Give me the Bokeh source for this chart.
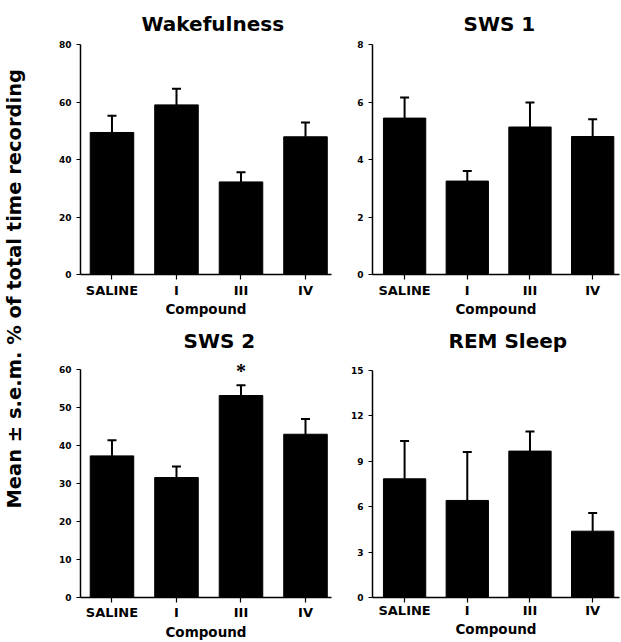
import numpy as np
from bokeh.plotting import figure
from bokeh.models import (ColumnDataSource, Whisker, TeeHead, FixedTicker,
                          Range1d, LabelSet)
from bokeh.layouts import row, column
from bokeh.embed import file_html
from bokeh.resources import INLINE
from bokeh.core.properties import value

# ---------------- data ----------------
compounds = ["SALINE", "I", "III", "IV"]

wake_mean = [49.4, 59.0, 32.2, 47.9]
wake_sem = [5.8, 5.6, 3.4, 5.0]

sws1_mean = [5.44, 3.25, 5.13, 4.80]
sws1_sem = [0.72, 0.35, 0.85, 0.60]

sws2_mean = [37.3, 31.6, 53.2, 43.0]
sws2_sem = [4.1, 2.9, 2.7, 4.0]
sws2_sig = ["", "", "*", ""]

rem_mean = [7.84, 6.41, 9.67, 4.38]
rem_sem = [2.5, 3.2, 1.3, 1.2]

wake_ticks = [0, 20, 40, 60, 80]
sws1_ticks = [0, 2, 4, 6, 8]
sws2_ticks = [0, 10, 20, 30, 40, 50, 60]
rem_ticks = [0, 3, 6, 9, 12, 15]

y_label = "Mean \u00b1 s.e.m. % of total time recording"
x_label = "Compound"

FONT = "DejaVu Sans"


def panel(title, means, sems, ticks, width, height, bl, br, bt, bb,
          xstart, xend, title_standoff, title_offset, sig=None,
          tick_standoff=3, label_standoff=0, ytop=None):
    xs = list(range(len(compounds)))
    src = ColumnDataSource(dict(
        x=xs, top=means, upper=[m + s for m, s in zip(means, sems)],
        sig=sig if sig is not None else [""] * len(xs)))
    p = figure(width=width, height=height, output_backend="svg",
               toolbar_location=None,
               x_range=Range1d(xstart, xend),
               y_range=Range1d(ticks[0], ytop if ytop else ticks[-1]),
               min_border_left=bl, min_border_right=br,
               min_border_top=bt, min_border_bottom=bb)
    p.title.text = title
    p.title.text_font = FONT
    p.title.text_font_size = "20px"
    p.title.text_font_style = "bold"
    p.title.text_color = "black"
    p.title.align = "left"
    p.title.vertical_align = "top"
    p.title.standoff = title_standoff
    p.title.offset = title_offset
    p.outline_line_color = None
    p.grid.visible = False
    p.background_fill_color = "white"
    p.border_fill_color = "white"

    p.vbar(x="x", top="top", bottom=0, width=0.675, source=src,
           fill_color="black", line_color="black")
    w = Whisker(base="x", lower="top", upper="upper", source=src,
                line_color="black", line_width=2,
                upper_head=TeeHead(size=9, line_color="black", line_width=2),
                lower_head=None)
    p.add_layout(w)
    if sig is not None:
        ls = LabelSet(x="x", y="upper", text="sig", source=src,
                      text_font=FONT, text_font_style="bold",
                      text_font_size="20px", text_align="center",
                      text_baseline="middle", y_offset=14,
                      text_color="black")
        p.add_layout(ls)

    # y axis
    ya = p.yaxis[0]
    ya.ticker = FixedTicker(ticks=ticks)
    ya.bounds = (ticks[0], ticks[-1])
    ya.minor_tick_line_color = None
    ya.major_tick_in = 0
    ya.major_tick_out = 4
    ya.axis_line_width = 1.5
    ya.axis_line_color = "black"
    ya.major_tick_line_color = "black"
    ya.major_tick_line_width = 1.2
    ya.major_label_text_font = FONT
    ya.major_label_text_font_style = "bold"
    ya.major_label_text_font_size = "9px"
    ya.major_label_text_color = "black"
    ya.major_label_standoff = 5

    # x axis
    xa = p.xaxis[0]
    xa.ticker = FixedTicker(ticks=xs)
    xa.major_label_overrides = {i: c for i, c in enumerate(compounds)}
    xa.minor_tick_line_color = None
    xa.major_tick_in = 0
    xa.major_tick_out = 5
    xa.axis_line_width = 1.5
    xa.axis_line_color = "black"
    xa.major_tick_line_color = "black"
    xa.major_tick_line_width = 1.2
    xa.major_label_text_font = FONT
    xa.major_label_text_font_style = "bold"
    xa.major_label_text_font_size = "13px"
    xa.major_label_text_color = "black"
    xa.major_label_standoff = tick_standoff
    xa.axis_label = x_label
    xa.axis_label_text_font = FONT
    xa.axis_label_text_font_style = "bold"
    xa.axis_label_text_font_size = "13.5px"
    xa.axis_label_text_color = "black"
    xa.axis_label_standoff = label_standoff
    return p


p1 = panel("Wakefulness", wake_mean, wake_sem, wake_ticks,
           313, 320, 48, 14, 44, 46,
           -0.488, 3.403, 14, 61, tick_standoff=3, label_standoff=0)
p2 = panel("SWS 1", sws1_mean, sws1_sem, sws1_ticks,
           276, 320, 27, 2, 44, 46,
           -0.512, 3.428, 13, 91, tick_standoff=3, label_standoff=0)
p3 = panel("SWS 2", sws2_mean, sws2_sem, sws2_ticks,
           313, 322, 48, 14, 34, 45,
           -0.488, 3.403, 0, 103, sig=sws2_sig,
           tick_standoff=2, label_standoff=1, ytop=64)
p4 = panel("REM Sleep", rem_mean, rem_sem, rem_ticks,
           276, 322, 27, 2, 34, 45,
           -0.512, 3.428, 0, 76,
           tick_standoff=0, label_standoff=0, ytop=16.05)

lab = figure(width=32, height=642, x_range=(-0.875, 1.125),
             y_range=(-1.102, 0.898),
             toolbar_location=None, output_backend="svg", min_border=0)
lab.axis.visible = False
lab.grid.visible = False
lab.outline_line_color = None
lab.text(x=[0], y=[0], text=[y_label], angle=np.pi / 2,
         text_align="center", text_baseline="middle",
         text_font=value("DejaVu Sans"), text_font_style="bold",
         text_font_size="19.5px", text_color="black")

layout = row(lab, column(row(p1, p2), row(p3, p4)))

open("out.html", "w").write(file_html(layout, INLINE))
